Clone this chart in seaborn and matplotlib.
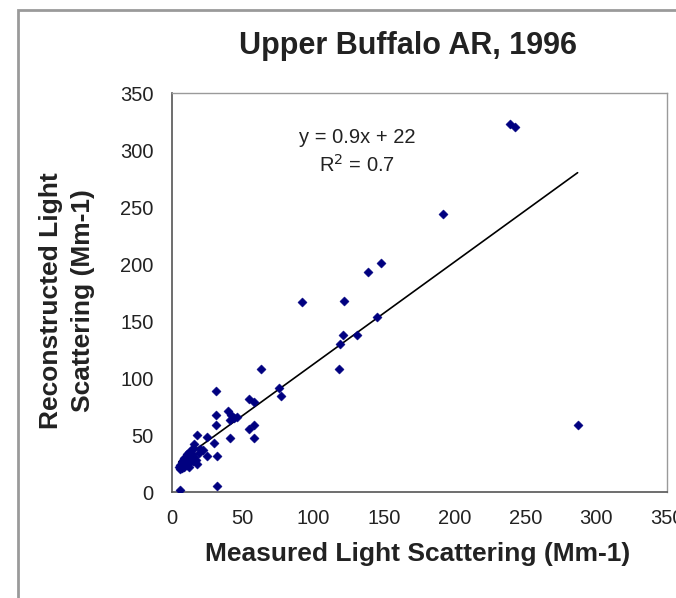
import matplotlib
matplotlib.use("Agg")
import matplotlib.pyplot as plt
import seaborn as sns
import pandas as pd
import numpy as np
from matplotlib.patches import Rectangle

# ---- data ----
measured = [239, 243, 192, 148, 139, 92, 122, 145, 121, 131, 119, 118, 63, 76, 77,
            31, 55, 58, 31, 40, 42, 44, 46, 41, 31, 58, 55, 58, 41, 18, 25, 30, 25, 32,
            287, 32, 6,
            16, 15, 14, 12, 11, 10, 9, 8, 7, 6, 5, 7, 9, 11, 13, 15, 17, 18, 16, 19, 13,
            10, 8, 12, 20, 14, 6, 22]
reconstructed = [323, 320, 244, 201, 193, 167, 168, 154, 138, 138, 130, 108, 108, 91, 84,
                 89, 82, 79, 68, 71, 68, 65, 66, 63, 59, 59, 55, 47, 47, 50, 48, 43, 32, 32,
                 59, 5, 2,
                 42, 39, 37, 35, 33, 31, 30, 28, 26, 24, 22, 21, 22, 24, 26, 27, 28, 25, 31, 34, 30,
                 27, 24, 22, 38, 33, 20, 37]
slope = 0.9
intercept = 22
title = "Upper Buffalo AR, 1996"
x_label = "Measured Light Scattering (Mm-1)"
y_label = "Reconstructed Light\nScattering (Mm-1)"
eq_lines = ["y = 0.9x + 22", "R$^2$ = 0.7"]
ticks = [0, 50, 100, 150, 200, 250, 300, 350]

df = pd.DataFrame({"measured": measured, "reconstructed": reconstructed})

sns.set_theme(style="white")
plt.rcParams["font.family"] = ["Liberation Sans", "DejaVu Sans"]

W, H = 676, 598
fig = plt.figure(figsize=(W / 100, H / 100), dpi=100)
fig.patch.set_facecolor("white")

# outer frame (gray border, cropped at right/bottom)
fig.add_artist(Rectangle((18 / W, -0.05), 1.2, 1 - 10 / H + 0.05, transform=fig.transFigure,
                         fill=False, edgecolor="#9a9a9a", linewidth=2.0))

ax = fig.add_axes([171.7 / W, 1 - 492 / H, 495 / W, 398.7 / H])

sns.scatterplot(data=df, x="measured", y="reconstructed", ax=ax, marker="D",
                s=22, color="#000080", edgecolor="#000080", linewidth=0.3, zorder=3)

xs = np.array([df["measured"].min(), df["measured"].max()])
ax.plot(xs, slope * xs + intercept, color="black", linewidth=1.2, zorder=2)

ax.set_xlim(0, 350)
ax.set_ylim(0, 350)
ax.set_xticks(ticks)
ax.set_yticks(ticks)
ax.tick_params(axis="both", which="major", direction="out", length=6, width=1,
               color="#333333", labelsize=14.5, labelcolor="#222222", pad=6)
ax.tick_params(axis="y", pad=7)

for side in ["top", "right"]:
    ax.spines[side].set_visible(True)
    ax.spines[side].set_color("#9a9a9a")
    ax.spines[side].set_linewidth(1.0)
for side in ["left", "bottom"]:
    ax.spines[side].set_color("#555555")
    ax.spines[side].set_linewidth(1.2)

ax.set_xlabel(x_label, fontsize=19, fontweight="bold", color="#222222")
ax.xaxis.set_label_coords(0.4976, -0.1555)
ax.xaxis.label.set_va("center")
ax.set_ylabel(y_label, fontsize=19, fontweight="bold", color="#222222", linespacing=1.45)
ax.yaxis.set_label_coords(-0.2115, 0.479)
ax.yaxis.label.set_va("center")
ax.yaxis.label.set_ha("center")

fig.text(408 / W, 1 - 46 / H, title, ha="center", va="center", fontsize=22,
         fontweight="bold", color="#222222")

ax.text(131, 311, eq_lines[0], ha="center", va="center", fontsize=14.5, color="#222222")
ax.text(131, 287, eq_lines[1], ha="center", va="center", fontsize=14.5, color="#222222")

fig.savefig("out.png", dpi=100)
